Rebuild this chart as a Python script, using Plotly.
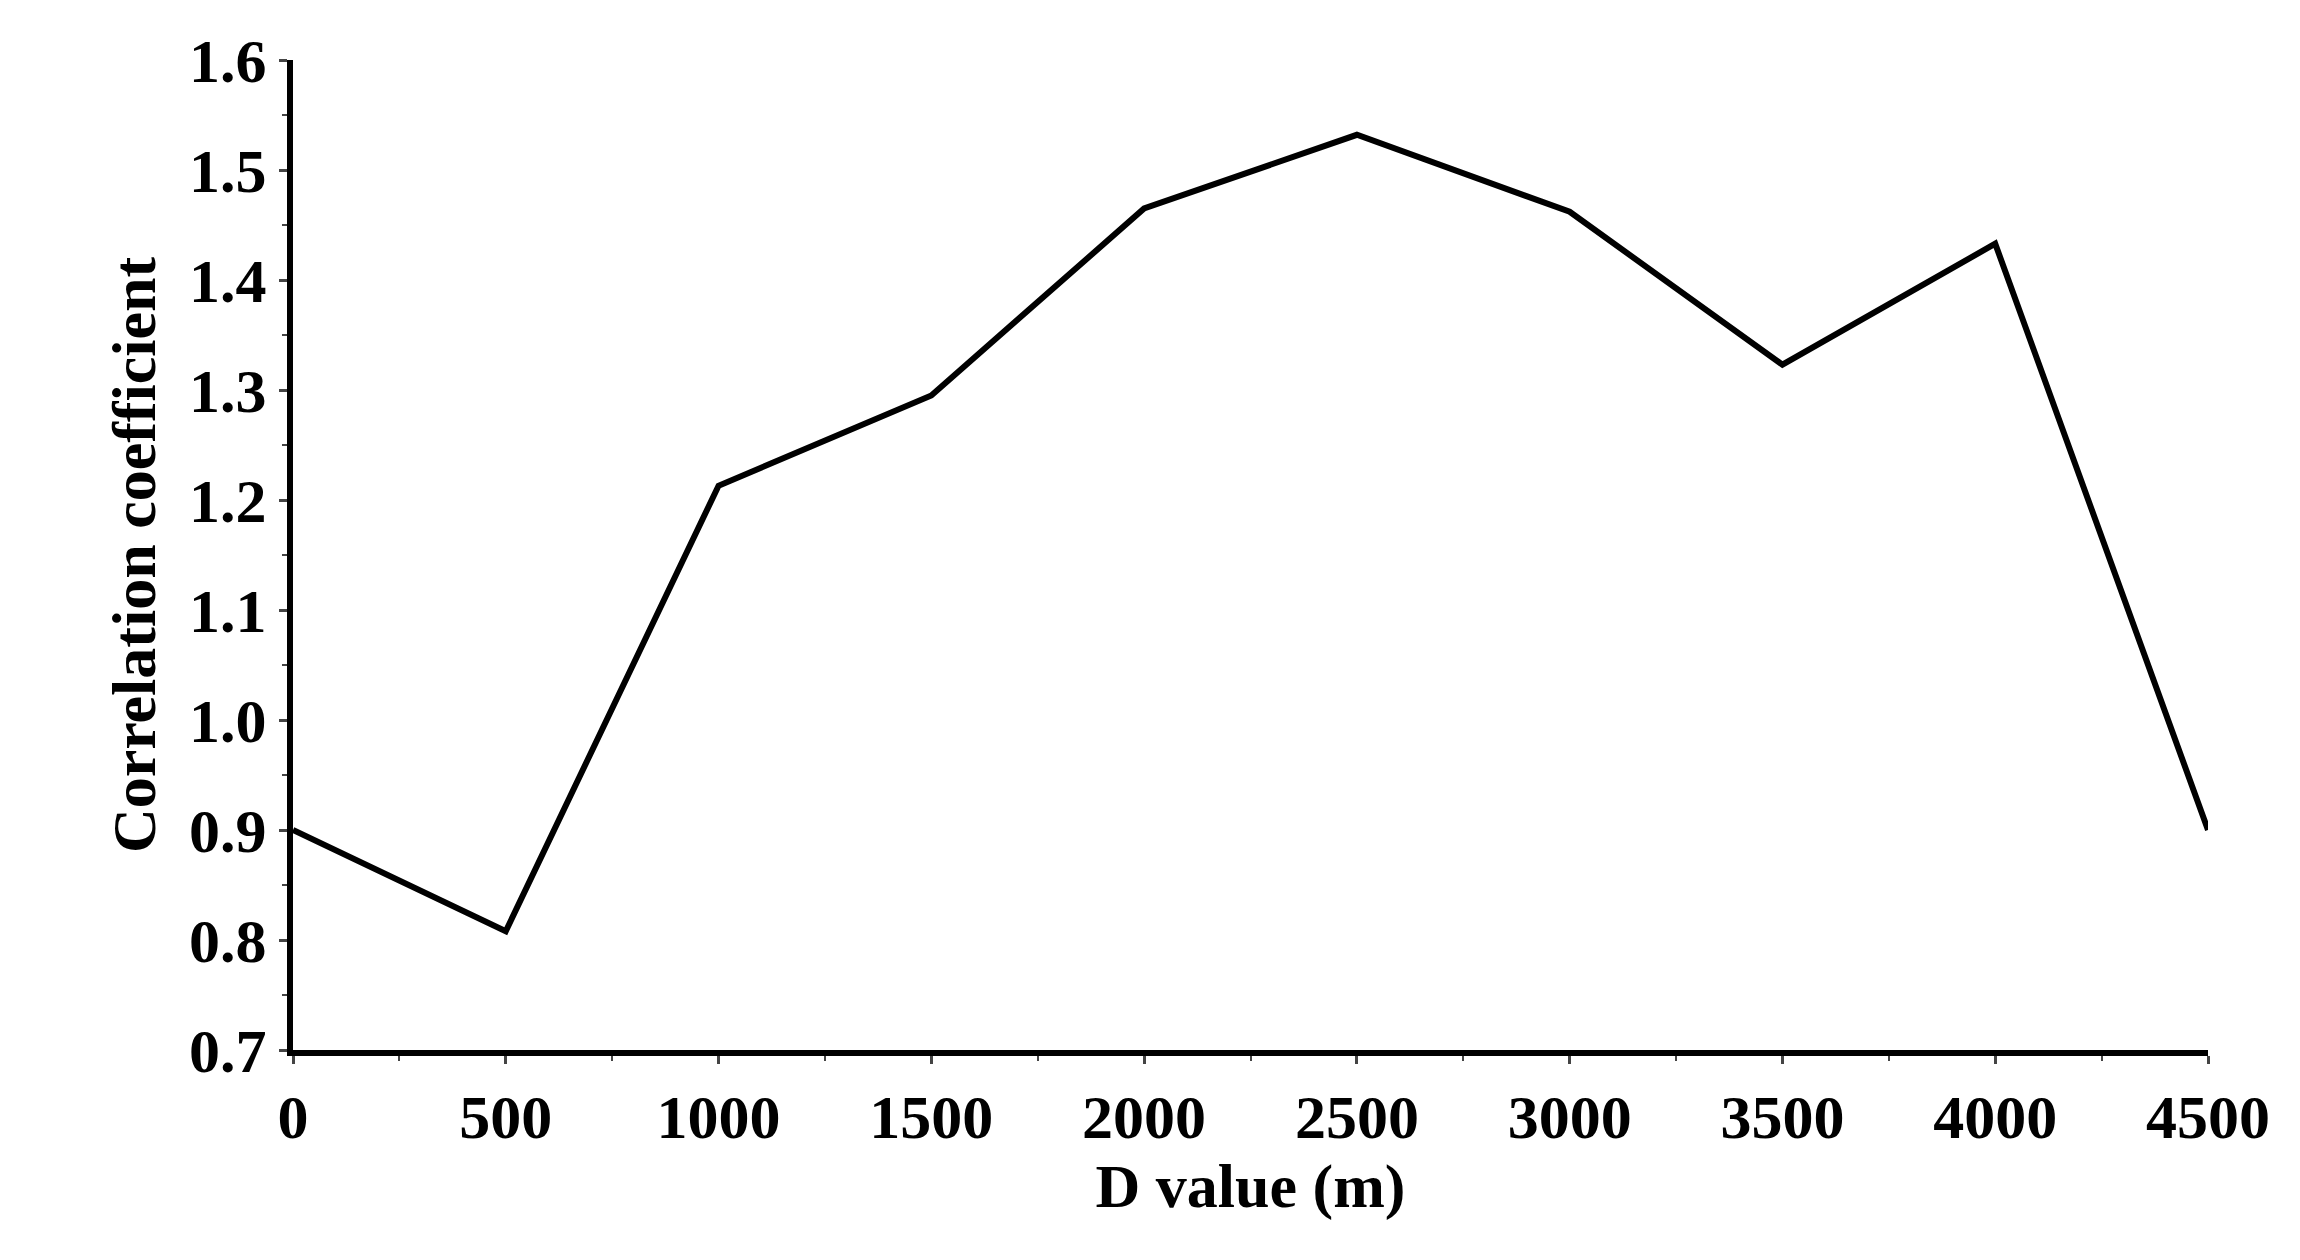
import plotly.graph_objects as go

d_values = [0, 500, 1000, 1500, 2000, 2500, 3000, 3500, 4000, 4500]
corr = [0.900, 0.808, 1.213, 1.295, 1.465, 1.532, 1.462, 1.323, 1.433, 0.900]

tf = dict(family="Liberation Serif", size=62, color="black", weight="bold")
titf = dict(family="Liberation Serif", size=62, color="black", weight="bold")
fig = go.Figure(go.Scatter(x=d_values, y=corr, mode="lines",
                           line=dict(color="black", width=6)))
fig.update_layout(
    width=2300, height=1260, plot_bgcolor="white", paper_bgcolor="white",
    margin=dict(l=285, r=100, t=52, b=218), showlegend=False,
)
fig.update_xaxes(range=[0, 4500], tickvals=d_values, showline=True, linecolor="black",
                 linewidth=6, ticks="outside", ticklen=8, tickwidth=3, showgrid=False,
                 zeroline=False, tickfont=tf,
                 minor=dict(dtick=250, ticks="outside", ticklen=5, tickwidth=2),
                 title=dict(text="D value (m)", font=titf, standoff=15))
fig.update_yaxes(range=[0.7, 1.6], dtick=0.1, tickformat=".1f", showline=True,
                 linecolor="black", linewidth=6, ticks="outside", ticklen=8, tickwidth=3,
                 showgrid=False, zeroline=False, tickfont=tf,
                 minor=dict(dtick=0.05, ticks="outside", ticklen=5, tickwidth=2),
                 title=dict(text="Correlation coefficient", font=titf, standoff=15))
fig.write_html("out.html")
